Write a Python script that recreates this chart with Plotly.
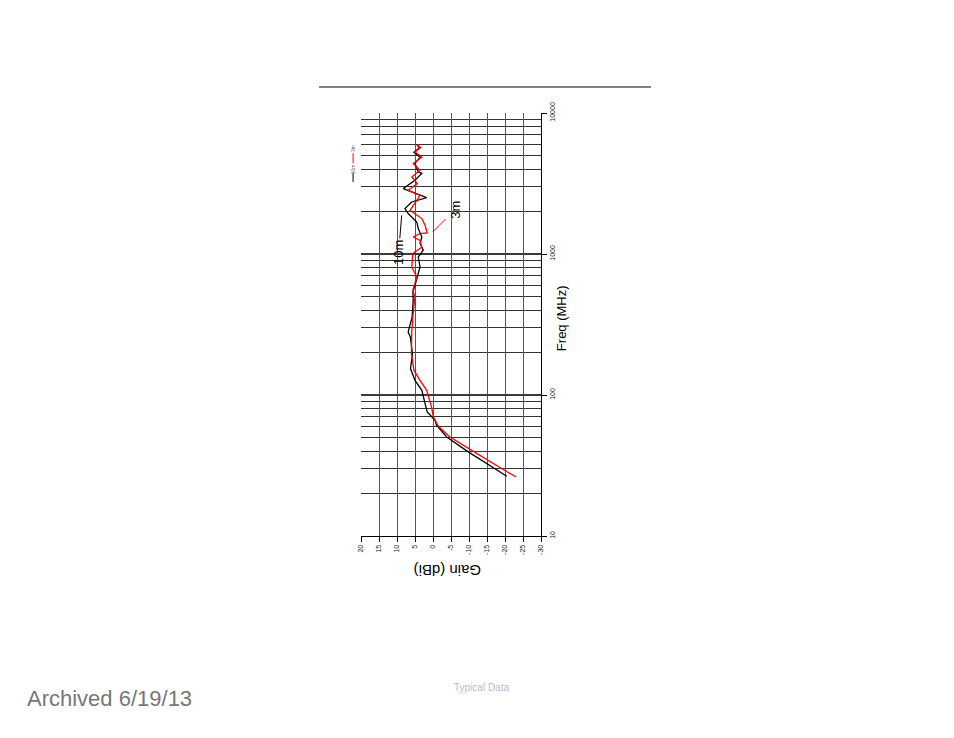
import numpy as np
import plotly.graph_objects as go

# 10m measurement (black)
freq_10m = [26.5, 32.6, 39.5, 50.4, 61, 66, 69.8, 75.7, 86.8, 108, 127, 154, 197, 258, 280,
            357, 470, 537, 600, 687, 809, 952, 1063, 1191, 1320, 1514, 1687, 1935, 2099,
            2338, 2514, 2911, 3335, 3733, 3818, 4395, 4850, 5260, 5620, 5970]
gain_10m = [-20.5, -14.9, -9.8, -3.8, -1.0, -0.6, 0.4, 1.6, 2.2, 3.1, 5.0, 6.25, 5.7, 6.3, 6.9,
            5.8, 5.5, 5.6, 5.0, 4.4, 3.6, 4.1, 2.7, 3.6, 3.1, 4.1, 4.5, 6.9, 7.8,
            5.9, 1.75, 8.25, 5.0, 3.1, 4.1, 5.0, 3.6, 5.3, 3.9, 4.2]

# 3m measurement (red)
freq_3m = [26.2, 29.6, 40.5, 50.4, 60, 66, 69.8, 82, 108, 127, 150, 197, 280, 378, 495,
           553, 620, 687, 809, 1007, 1122, 1250, 1320, 1396, 1410, 1599, 1783, 2042, 2404,
           2609, 2829, 3155, 3516, 3929, 4376, 4874, 5286, 5684, 5904, 6000]
gain_3m = [-23.1, -19.5, -10.75, -4.7, -1.5, -0.55, -0.1, 0.4, 1.75, 3.6, 5.3, 6.0, 5.9, 5.5, 5.0,
           5.6, 5.0, 4.5, 5.9, 5.6, 3.1, 3.6, 5.5, 3.6, 1.6, 2.2, 3.1, 6.4, 4.5,
           3.6, 6.9, 4.35, 5.9, 3.6, 5.5, 3.1, 5.0, 3.4, 4.5, 3.8]

gain_ticks = [20, 15, 10, 5, 0, -5, -10, -15, -20, -25, -30]
freq_ticks = [10, 100, 1000, 10000]
freq_minor = [m * d for d in (10, 100, 1000) for m in range(2, 10)]

font = "Liberation Sans, Arial, sans-serif"

fig = go.Figure()
fig.add_trace(go.Scatter(x=gain_10m, y=freq_10m, mode="lines", name="10m",
                         line=dict(color="black", width=1.3)))
fig.add_trace(go.Scatter(x=gain_3m, y=freq_3m, mode="lines", name="3m",
                         line=dict(color="red", width=1.3)))

# page body has an 8px margin, so shift the plot area back by 8px
fig.update_layout(
    width=954, height=738,
    margin=dict(l=353, r=421, t=105, b=210),
    paper_bgcolor="white", plot_bgcolor="white",
    showlegend=False,
    font=dict(family=font, color="black"),
    xaxis=dict(range=[20, -30], tickmode="array", tickvals=gain_ticks,
               ticktext=[str(v) for v in gain_ticks], tickangle=-90,
               tickfont=dict(size=7, color="#222"), ticks="outside", ticklen=5,
               tickcolor="black", showgrid=True, gridcolor="#555", gridwidth=1,
               showline=True, linecolor="black", linewidth=1, zeroline=False),
    yaxis=dict(type="log", range=[1, 4], side="right", tickmode="array",
               tickvals=freq_ticks, ticktext=[str(v) for v in freq_ticks],
               tickangle=-90, tickfont=dict(size=7, color="#222"), ticks="outside",
               ticklen=5, tickcolor="black", showgrid=True, gridcolor="#3a3a3a",
               gridwidth=1.6,
               minor=dict(tickmode="array", tickvals=freq_minor, showgrid=True,
                          gridcolor="#333", gridwidth=1, ticks=""),
               showline=True, linecolor="black", linewidth=1, zeroline=False),
)


def note(text, x, y, size, color="black", angle=0, xanchor="center"):
    fig.add_annotation(text=text, xref="paper", yref="paper", x=x, y=y,
                       xanchor=xanchor, yanchor="middle", showarrow=False,
                       textangle=angle, font=dict(size=size, color=color))


# axis titles (rotated chart)
note("Freq (MHz)", 1.111, 0.515, 13, angle=-90)
note("Gain (dBi)", 0.478, -0.080, 15, angle=180)

# curve labels with leader lines
fig.add_annotation(text="10m", x=8.7, y=np.log10(1880), ax=-3, ay=37,
                   showarrow=True, arrowhead=0, arrowwidth=1, arrowcolor="black",
                   textangle=-90, font=dict(size=13))
fig.add_annotation(text="3m", x=0.1, y=np.log10(1432), ax=22, ay=-22,
                   showarrow=True, arrowhead=0, arrowwidth=1, arrowcolor="red",
                   textangle=-90, font=dict(size=13))

# rotated legend
fig.add_shape(type="line", xref="paper", yref="paper", x0=-0.044, x1=-0.044,
              y0=0.837, y1=0.858, line=dict(color="black", width=1))
note("10m", -0.044, 0.867, 5, color="#666", angle=-90)
fig.add_shape(type="line", xref="paper", yref="paper", x0=-0.044, x1=-0.044,
              y0=0.881, y1=0.905, line=dict(color="red", width=1))
note("3m", -0.044, 0.915, 5, color="#666", angle=-90)

# top rule
fig.add_shape(type="line", xref="paper", yref="paper", x0=-0.233, x1=1.611,
              y0=1.0615, y1=1.0615, line=dict(color="black", width=1))

note("Typical Data", 0.672, -0.359, 10, color="#bbb")
note("Archived 6/19/13", -1.867, -0.383, 22, color="#777", xanchor="left")

fig.write_html("out.html")
